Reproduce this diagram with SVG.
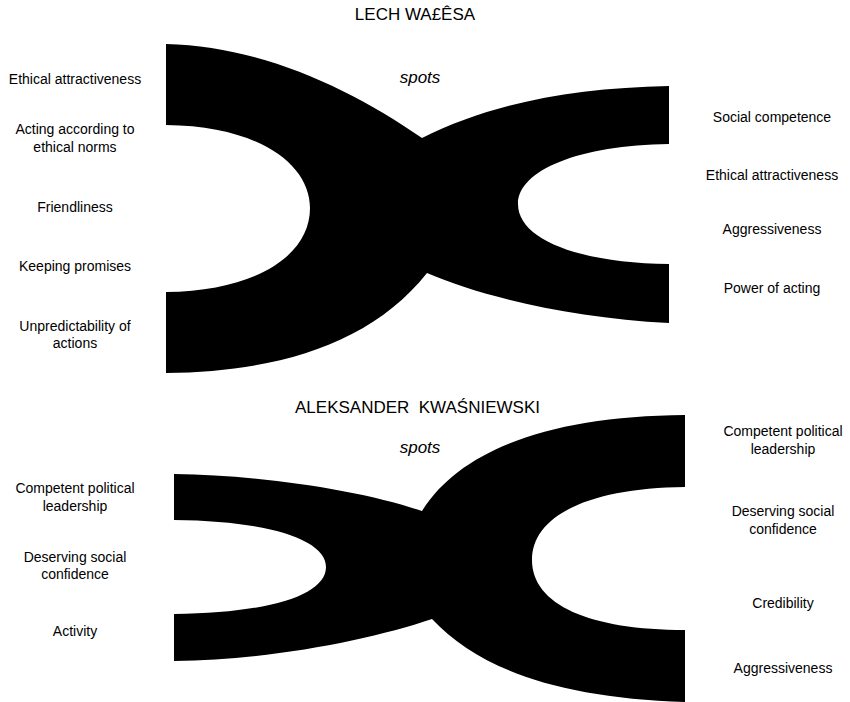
<svg xmlns="http://www.w3.org/2000/svg" width="850" height="702" viewBox="0 0 850 702">
  <style>
    text { font-family: "Liberation Sans", Arial, Helvetica, sans-serif; fill: #000; text-anchor: middle; }
    .lbl { font-size: 14px; }
    .title { font-size: 17px; }
    .spots { font-size: 17px; font-style: italic; }
    .band { fill: #000; stroke: none; }
  </style>
  <rect width="850" height="702" fill="#fff"/>

  <!-- Upper figure -->
  <g id="walesa">
    <text class="title" x="415" y="19.5">LECH WA£ÊSA</text>
    <text class="spots" x="420" y="82.5">spots</text>
    <path id="walesa-cross" class="band" d="M166,44 C260,46 350,88 422,138 C490,104 570,88 669,86 L669,144 C580,145 518,170 518,204 C518,240 580,263 669,264 L669,323 C570,318 480,296 427,273 C370,345 275,372 166,373 L166,292 C255,291 310,256 310,208 C310,165 260,126 166,125 Z"/>
    <g id="walesa-left">
      <text class="lbl" x="75" y="84">Ethical attractiveness</text>
      <text class="lbl" x="75" y="134">Acting according to</text>
      <text class="lbl" x="75" y="151.5">ethical norms</text>
      <text class="lbl" x="75" y="211.5">Friendliness</text>
      <text class="lbl" x="75" y="270.5">Keeping promises</text>
      <text class="lbl" x="75" y="330.5">Unpredictability of</text>
      <text class="lbl" x="75" y="348">actions</text>
    </g>
    <g id="walesa-right">
      <text class="lbl" x="772" y="121.5">Social competence</text>
      <text class="lbl" x="772" y="180">Ethical attractiveness</text>
      <text class="lbl" x="772" y="233.5">Aggressiveness</text>
      <text class="lbl" x="772" y="292.5">Power of acting</text>
    </g>
  </g>

  <!-- Lower figure -->
  <g id="kwasniewski">
    <text class="title" x="417.5" y="413" xml:space="preserve">ALEKSANDER  KWAŚNIEWSKI</text>
    <text class="spots" x="420" y="453">spots</text>
    <path id="kwasniewski-cross" class="band" d="M174,474 C260,475 360,490 422,511 C460,450 550,416 685,415 L685,487 C590,488 532,515 532,560 C532,605 590,630 685,630 L685,702 C560,698 480,670 432,619 C370,640 270,660 174,661 L174,614 C270,613 326,595 326,567 C326,540 270,521 174,520 Z"/>
    <g id="kwasniewski-left">
      <text class="lbl" x="75" y="493">Competent political</text>
      <text class="lbl" x="75" y="510.5">leadership</text>
      <text class="lbl" x="75" y="561.5">Deserving social</text>
      <text class="lbl" x="75" y="579">confidence</text>
      <text class="lbl" x="75" y="636">Activity</text>
    </g>
    <g id="kwasniewski-right">
      <text class="lbl" x="783" y="436">Competent political</text>
      <text class="lbl" x="783" y="453.5">leadership</text>
      <text class="lbl" x="783" y="516">Deserving social</text>
      <text class="lbl" x="783" y="534">confidence</text>
      <text class="lbl" x="783" y="608">Credibility</text>
      <text class="lbl" x="783" y="673">Aggressiveness</text>
    </g>
  </g>

  <!-- No connectors: the figure is made of filled bands only -->
  <g id="connectors"/>
</svg>
